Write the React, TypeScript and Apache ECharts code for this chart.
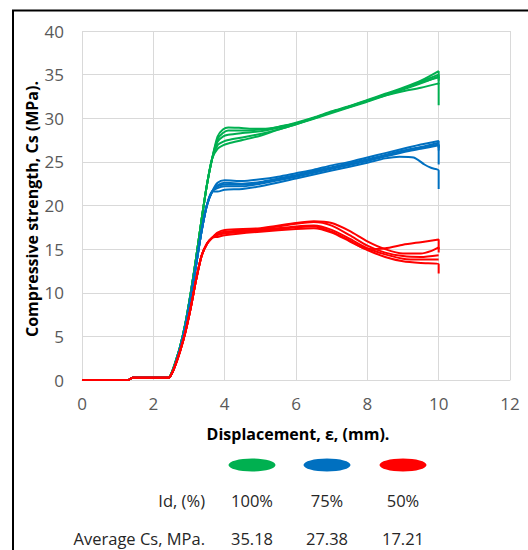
import React, { useEffect, useRef } from "react";
import * as echarts from "echarts";

// x ticks / y ticks
const xTicks = [0, 2, 4, 6, 8, 10, 12];
const yTicks = [0, 5, 10, 15, 20, 25, 30, 35, 40];

// shared toe region of every test
const toe: number[][] = [[0, 0], [1.3, 0], [1.42, 0.27], [2.43, 0.27]];

// rise portions
const greenRise: number[][] = [[2.5, 0.7], [2.6, 1.8], [2.75, 3.8], [2.9, 6.5], [3.05, 10], [3.2, 14], [3.35, 18.3], [3.5, 22.3], [3.65, 25.4]];
const blueRise: number[][] = [[2.5, 0.6], [2.6, 1.6], [2.75, 3.6], [2.9, 6.2], [3.05, 9.5], [3.2, 13.2], [3.35, 17], [3.5, 20], [3.65, 21.6]];
const redRise: number[][] = [[2.5, 0.6], [2.6, 1.5], [2.75, 3.3], [2.9, 5.5], [3.05, 8.3], [3.2, 11.5], [3.35, 14.2], [3.5, 15.6], [3.65, 16.3]];

// 100% density (green)
const green1: number[][] = [[3.8, 27.9], [3.95, 28.7], [4.1, 28.95], [4.4, 28.9], [4.8, 28.8], [5.2, 28.8], [5.6, 29.1], [6, 29.5], [6.5, 30.1], [7, 30.8], [7.5, 31.4], [8, 32.1], [8.5, 32.8], [9, 33.5], [9.5, 34.3], [10, 35.4], [10, 34.6]];
const green2: number[][] = [[3.8, 27.6], [3.95, 28.3], [4.1, 28.6], [4.5, 28.6], [5, 28.7], [5.5, 29], [6, 29.4], [6.5, 30], [7, 30.7], [7.5, 31.3], [8, 32], [8.5, 32.7], [9, 33.4], [9.5, 34.2], [10, 35.0], [10, 34.3]];
const green3: number[][] = [[3.8, 27.3], [3.95, 27.9], [4.1, 28.1], [4.5, 28.3], [5, 28.5], [5.5, 28.9], [6, 29.4], [7, 30.7], [8, 32], [8.5, 32.7], [9, 33.4], [9.5, 34.1], [10, 34.7], [10, 33.9]];
const green4: number[][] = [[3.8, 26.9], [3.95, 27.3], [4.1, 27.5], [4.5, 27.8], [5, 28.2], [5.5, 28.7], [6, 29.3], [7, 30.7], [8, 32], [8.5, 32.6], [9, 33.1], [9.5, 33.5], [10, 34.0], [10, 31.5]];
const green5: number[][] = [[3.8, 26.5], [3.95, 26.9], [4.1, 27.1], [4.5, 27.5], [5, 28.0], [5.5, 28.7], [6, 29.3], [7, 30.6], [8, 31.9], [8.5, 32.6], [9, 33.3], [9.5, 34.0], [10, 34.8]];

// 75% density (blue)
const blue1: number[][] = [[3.8, 22.6], [4, 22.9], [4.5, 22.8], [5, 23.0], [5.5, 23.3], [6, 23.7], [6.5, 24.1], [7, 24.6], [7.5, 25.0], [8, 25.5], [8.5, 26.0], [9, 26.5], [9.5, 27.0], [10, 27.4], [10, 24.7]];
const blue2: number[][] = [[3.8, 22.3], [4, 22.6], [4.5, 22.5], [5, 22.7], [5.5, 23.1], [6, 23.5], [7, 24.4], [8, 25.3], [9, 26.3], [9.5, 26.7], [10, 27.2]];
const blue3: number[][] = [[3.8, 22.0], [4, 22.2], [4.5, 22.2], [5, 22.5], [6, 23.3], [7, 24.2], [8, 25.1], [9, 26.1], [9.5, 26.5], [10, 26.9], [10, 26.3]];
const blue4: number[][] = [[3.8, 21.6], [4, 21.8], [4.5, 21.9], [5, 22.2], [6, 23.1], [7, 24.0], [8, 24.9], [8.5, 25.4], [8.9, 25.6], [9.3, 25.5], [9.6, 24.7], [9.8, 24.3], [10, 24.0], [10, 21.9]];
const blue5: number[][] = [[3.8, 22.2], [4, 22.4], [4.5, 22.4], [5, 22.6], [6, 23.4], [7, 24.3], [8, 25.2], [9, 26.2], [10, 27.0], [10, 26.6]];

// 50% density (red)
const red1: number[][] = [[3.8, 16.6], [4, 16.8], [5, 17.1], [6, 17.5], [6.5, 17.6], [7, 17.0], [7.5, 16.0], [8, 15.0], [8.5, 15.1], [9, 15.5], [9.5, 15.8], [10, 16.1], [10, 15.0]];
const red2: number[][] = [[3.8, 16.9], [4, 17.2], [5, 17.4], [6, 18.0], [6.5, 18.2], [7, 18.0], [7.5, 17.1], [8, 15.9], [8.5, 15.0], [9, 14.5], [9.5, 14.5], [9.8, 14.8], [10, 15.2], [10, 14.6]];
const red3: number[][] = [[3.8, 16.8], [4, 17.0], [5, 17.3], [6, 17.9], [6.5, 18.1], [7, 17.7], [7.5, 16.6], [8, 15.4], [8.5, 14.6], [9, 14.2], [9.5, 14.1], [10, 14.3]];
const red4: number[][] = [[3.8, 16.7], [4, 16.9], [5, 17.2], [6, 17.6], [6.5, 17.7], [7, 17.2], [7.5, 16.2], [8, 15.1], [8.5, 14.4], [9, 13.9], [9.5, 13.8], [10, 13.8]];
const red5: number[][] = [[3.8, 16.4], [4, 16.6], [5, 17.0], [6, 17.3], [6.5, 17.4], [7, 16.9], [7.5, 15.9], [8, 14.9], [8.5, 14.1], [9, 13.6], [9.5, 13.4], [10, 13.3], [10, 12.2]];

const groups = ["100%", "75%", "50%"];
const averages = ["35.18", "27.38", "17.21"];
const colors = ["#00B050", "#0070C0", "#FF0000"];

const FONT = "'Open Sans', sans-serif";

export default function App() {
  const ref = useRef<HTMLDivElement>(null);
  useEffect(() => {
    if (!ref.current) return;
    const chart = echarts.init(ref.current, undefined, { renderer: "svg" });
    const mk = (name: string, rise: number[][], tail: number[][], color: string) => ({
      name,
      type: "line",
      data: [...toe, ...rise, ...tail],
      showSymbol: false,
      symbol: "none",
      smooth: 0.25,
      lineStyle: { color, width: 2 },
      z: 3,
    });
    const series = [
      mk("G1", greenRise, green1, colors[0]),
      mk("G2", greenRise, green2, colors[0]),
      mk("G3", greenRise, green3, colors[0]),
      mk("G4", greenRise, green4, colors[0]),
      mk("G5", greenRise, green5, colors[0]),
      mk("B1", blueRise, blue1, colors[1]),
      mk("B2", blueRise, blue2, colors[1]),
      mk("B3", blueRise, blue3, colors[1]),
      mk("B4", blueRise, blue4, colors[1]),
      mk("B5", blueRise, blue5, colors[1]),
      mk("R1", redRise, red1, colors[2]),
      mk("R2", redRise, red2, colors[2]),
      mk("R3", redRise, red3, colors[2]),
      mk("R4", redRise, red4, colors[2]),
      mk("R5", redRise, red5, colors[2]),
    ];
    const colX = [252, 327, 403];
    const rowFont = `16.5px ${FONT}`;
    const graphic: any[] = [
      {
        type: "rect",
        shape: { x: 13, y: 10.5, width: 540, height: 560 },
        style: { fill: "none", stroke: "#000", lineWidth: 2 },
        silent: true,
      },
      {
        type: "text",
        x: 298,
        y: 434,
        style: { text: "Displacement, ε, (mm).", font: `bold 16px ${FONT}`, fill: "#000", align: "center", verticalAlign: "middle" },
      },
      {
        type: "text",
        x: 32,
        y: 209,
        rotation: Math.PI / 2,
        style: { text: "Compressive strength, Cs (MPa).", font: `bold 16px ${FONT}`, fill: "#000", align: "center", verticalAlign: "middle" },
      },
      {
        type: "text",
        x: 205,
        y: 500,
        style: { text: "Id, (%)", font: rowFont, fill: "#262626", align: "right", verticalAlign: "middle" },
      },
      {
        type: "text",
        x: 205,
        y: 538,
        style: { text: "Average Cs, MPa.", font: rowFont, fill: "#262626", align: "right", verticalAlign: "middle" },
      },
    ];
    groups.forEach((g, i) => {
      graphic.push({
        type: "ellipse",
        shape: { cx: colX[i], cy: 465, rx: 23.5, ry: 6.5 },
        style: { fill: colors[i] },
      });
      graphic.push({
        type: "text",
        x: colX[i],
        y: 500,
        style: { text: g, font: rowFont, fill: "#262626", align: "center", verticalAlign: "middle" },
      });
      graphic.push({
        type: "text",
        x: colX[i],
        y: 538,
        style: { text: averages[i], font: rowFont, fill: "#262626", align: "center", verticalAlign: "middle" },
      });
    });
    chart.setOption({
      animation: false,
      backgroundColor: "#fff",
      grid: { left: 82, top: 31, width: 428, height: 349 },
      xAxis: {
        type: "value",
        min: xTicks[0],
        max: xTicks[xTicks.length - 1],
        interval: xTicks[1] - xTicks[0],
        axisLine: { show: true, lineStyle: { color: "#d9d9d9", width: 1 } },
        axisTick: { show: false },
        splitLine: { show: true, lineStyle: { color: "#d9d9d9", width: 1 } },
        axisLabel: { color: "#595959", fontSize: 17, fontFamily: FONT, margin: 15 },
      },
      yAxis: {
        type: "value",
        min: yTicks[0],
        max: yTicks[yTicks.length - 1],
        interval: yTicks[1] - yTicks[0],
        axisLine: { show: false },
        axisTick: { show: false },
        splitLine: { show: true, lineStyle: { color: "#d9d9d9", width: 1 } },
        axisLabel: { color: "#595959", fontSize: 17, fontFamily: FONT, margin: 18 },
      },
      series,
      graphic,
    });
    return () => chart.dispose();
  }, []);
  return <div ref={ref} style={{ position: "fixed", left: 0, top: 0, width: 528, height: 550 }} />;
}
